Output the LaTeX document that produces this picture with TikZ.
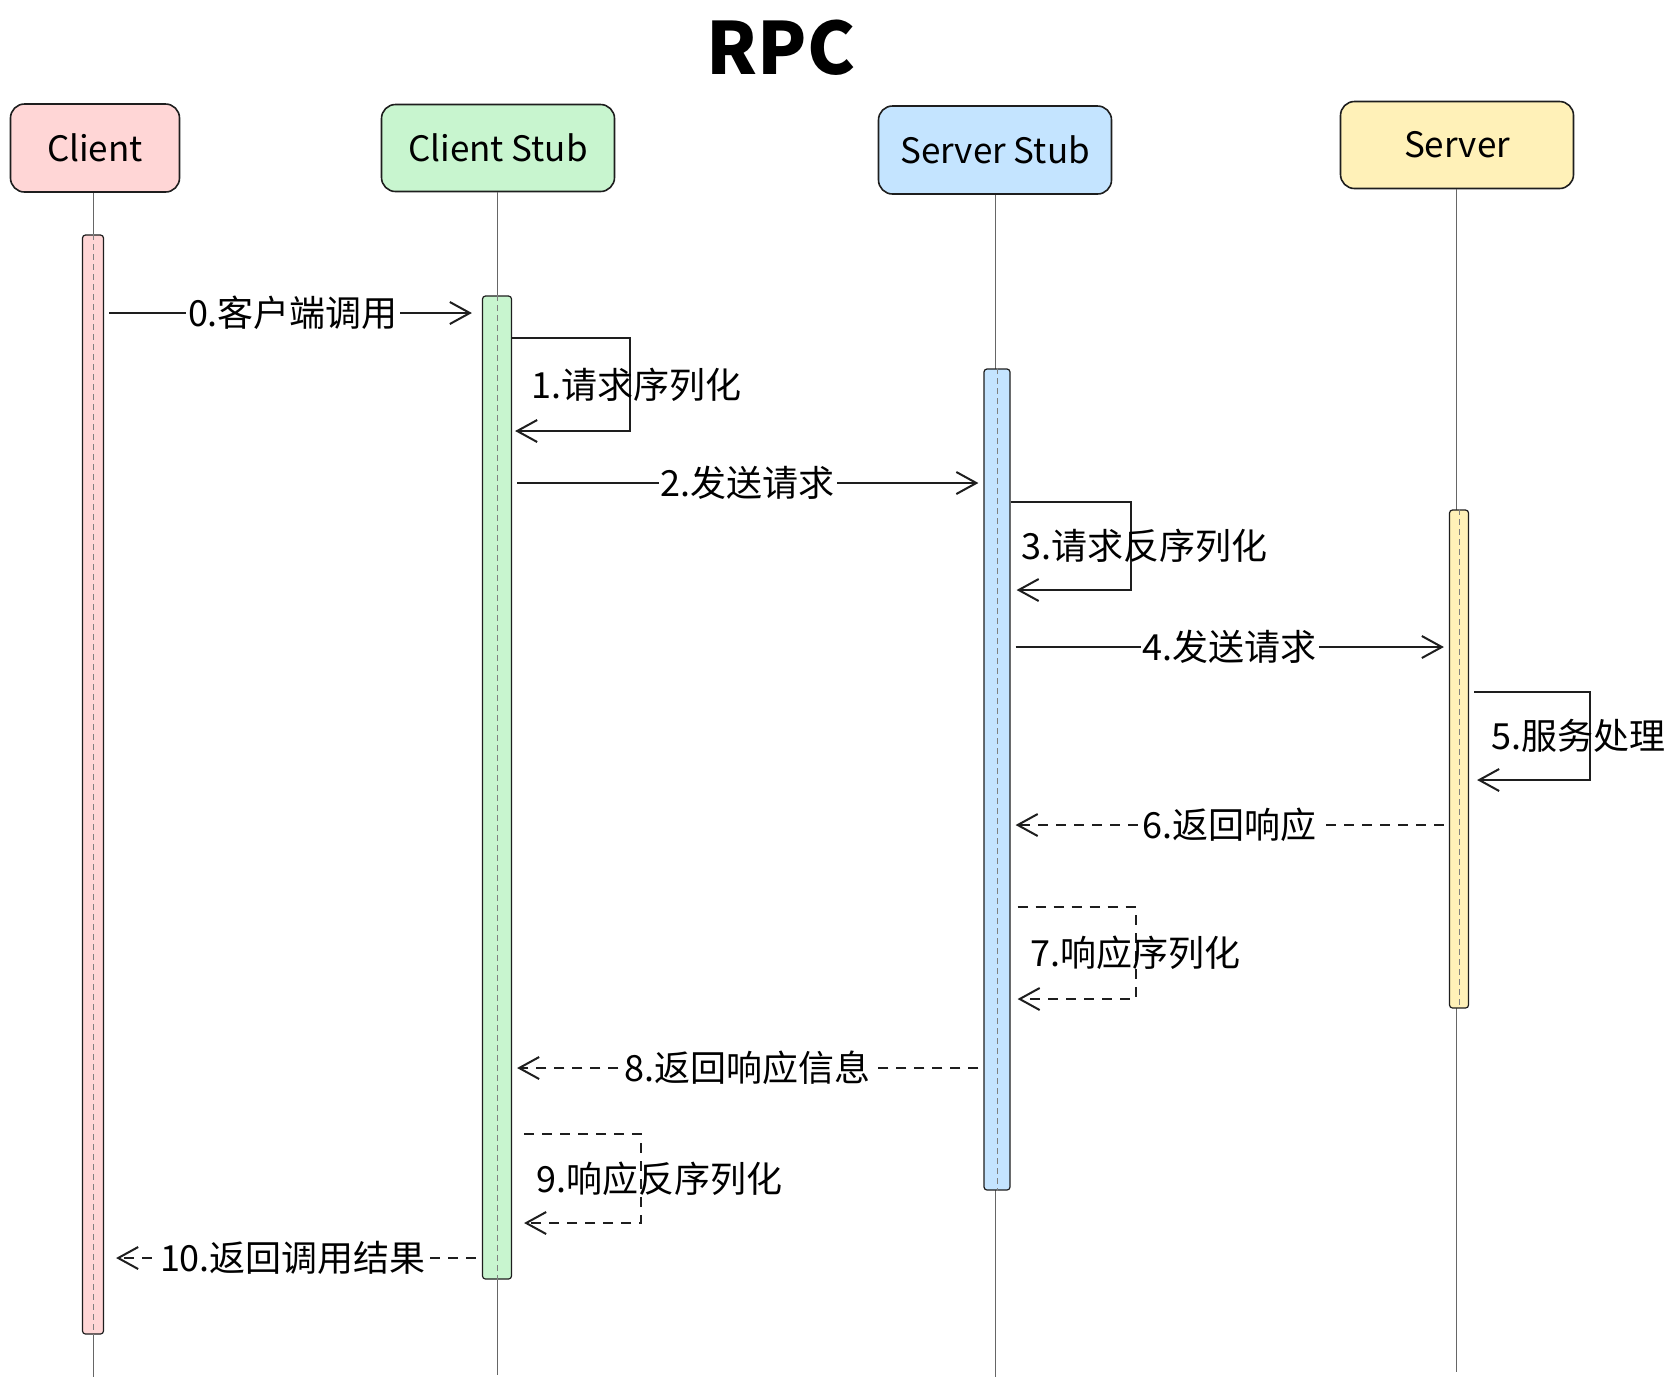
\documentclass[tikz,border=0pt]{standalone}
\usepackage{fontspec}
\setmainfont{Noto Sans CJK SC}
\usetikzlibrary{arrows.meta}
\definecolor{clientfill}{HTML}{FFD6D6}
\definecolor{cstubfill}{HTML}{C8F5CF}
\definecolor{sstubfill}{HTML}{C4E4FF}
\definecolor{serverfill}{HTML}{FFF1B8}
\definecolor{inkline}{HTML}{1E1E1E}
\tikzset{
  actor/.style={draw=inkline, line width=0.8pt, rounded corners=7pt, inner sep=0pt,
    font=\fontsize{17.5}{19}\selectfont},
  actbar/.style={draw=inkline, line width=0.6pt, rounded corners=1.5pt, inner sep=0pt},
  lifeline/.style={draw=gray!80!black, line width=0.5pt},
  msg/.style={draw=inkline, line width=1pt, -{Straight Barb[length=10pt,width=11pt]}},
  reply/.style={msg, dash pattern=on 5pt off 4pt},
  msglabel/.style={fill=white, inner sep=1pt, font=\fontsize{18}{20}\selectfont},
  looplabel/.style={inner sep=0pt, font=\fontsize{18}{20}\selectfont}
}
\begin{document}
\begin{tikzpicture}[x=0.5pt,y=-0.5pt]
\useasboundingbox (0,0) rectangle (1674,1388);
% title
\node (title) at (781,48) {\fontsize{36}{40}\selectfont\bfseries RPC};
% participants
\node[actor, fill=clientfill, minimum width=84.5pt, minimum height=44pt] (client) at (95,148) {Client};
\node[actor, fill=cstubfill, minimum width=116.5pt, minimum height=43.5pt] (cstub) at (498,148) {Client Stub};
\node[actor, fill=sstubfill, minimum width=116.5pt, minimum height=44pt] (sstub) at (995,150) {Server Stub};
\node[actor, fill=serverfill, minimum width=116.5pt, minimum height=43.5pt] (server) at (1457,145) {Server};
% lifelines
\coordinate (clientend) at (93,1377);
\coordinate (cstubend) at (497,1375);
\coordinate (sstubend) at (995,1377);
\coordinate (serverend) at (1456,1372);
\draw[lifeline] (client.south -| clientend) -- (clientend);
\draw[lifeline] (cstub.south -| cstubend) -- (cstubend);
\draw[lifeline] (sstub.south -| sstubend) -- (sstubend);
\draw[lifeline] (server.south -| serverend) -- (serverend);
% activation bars
\node[actbar, fill=clientfill, minimum width=10.5pt, minimum height=549.5pt] (cbar) at (93,784.5) {};
\node[actbar, fill=cstubfill, minimum width=14.5pt, minimum height=491.5pt] (csbar) at (497,787.5) {};
\node[actbar, fill=sstubfill, minimum width=13pt, minimum height=410.5pt] (ssbar) at (997,779.5) {};
\node[actbar, fill=serverfill, minimum width=9.5pt, minimum height=249pt] (sbar) at (1459,759) {};
\foreach \b in {cbar,csbar,ssbar,sbar}
  \draw[gray, line width=0.4pt, dash pattern=on 3pt off 2pt] (\b.north) -- (\b.south);
% message rows
\coordinate (y0) at (0,313);
\coordinate (y1a) at (0,338);  \coordinate (y1b) at (0,431);
\coordinate (y2) at (0,483);
\coordinate (y3a) at (0,502);  \coordinate (y3b) at (0,590);
\coordinate (y4) at (0,647);
\coordinate (y5a) at (0,692);  \coordinate (y5b) at (0,780);
\coordinate (y6) at (0,825);
\coordinate (y7a) at (0,907);  \coordinate (y7b) at (0,999);
\coordinate (y8) at (0,1068);
\coordinate (y9a) at (0,1134); \coordinate (y9b) at (0,1223);
\coordinate (y10) at (0,1258);
% requests
\draw[msg, shorten <=2.5pt, shorten >=5pt] (cbar.east |- y0) -- node[msglabel]{0.客户端调用} (csbar.west |- y0);
\draw[msg, shorten >=1.5pt] (csbar.east |- y1a) -- ++(118,0) -- node[looplabel, xshift=3pt]{1.请求序列化} ++(0,93) -- (csbar.east |- y1b);
\draw[msg, shorten <=2.5pt, shorten >=2.5pt] (csbar.east |- y2) -- node[msglabel]{2.发送请求} (ssbar.west |- y2);
\draw[msg, shorten >=3pt] (ssbar.east |- y3a) -- ++(120,0) -- node[looplabel, xshift=7pt]{3.请求反序列化} ++(0,88) -- (ssbar.east |- y3b);
\draw[msg, shorten <=2.5pt, shorten >=2.5pt] (ssbar.east |- y4) -- node[msglabel]{4.发送请求} (sbar.west |- y4);
\draw[msg, shorten >=4pt] ([xshift=2.5pt]sbar.east |- y5a) -- ++(116,0) -- node[looplabel, xshift=-6pt]{5.服务处理} ++(0,88) -- (sbar.east |- y5b);
% replies
\draw[reply, shorten <=2.5pt, shorten >=2.5pt] (sbar.west |- y6) -- node[msglabel]{6.返回响应} (ssbar.east |- y6);
\draw[reply, shorten >=3.5pt] ([xshift=3.5pt]ssbar.east |- y7a) -- ++(118,0) -- node[looplabel]{7.响应序列化} ++(0,92) -- (ssbar.east |- y7b);
\draw[reply, shorten <=2.5pt, shorten >=2.5pt] (ssbar.west |- y8) -- node[msglabel]{8.返回响应信息} (csbar.east |- y8);
\draw[reply, shorten >=6pt] ([xshift=6pt]csbar.east |- y9a) -- ++(117,0) -- node[looplabel, xshift=9pt]{9.响应反序列化} ++(0,89) -- (csbar.east |- y9b);
\draw[reply, shorten <=3pt, shorten >=6pt] (csbar.west |- y10) -- node[msglabel]{10.返回调用结果} (cbar.east |- y10);
\end{tikzpicture}
\end{document}
